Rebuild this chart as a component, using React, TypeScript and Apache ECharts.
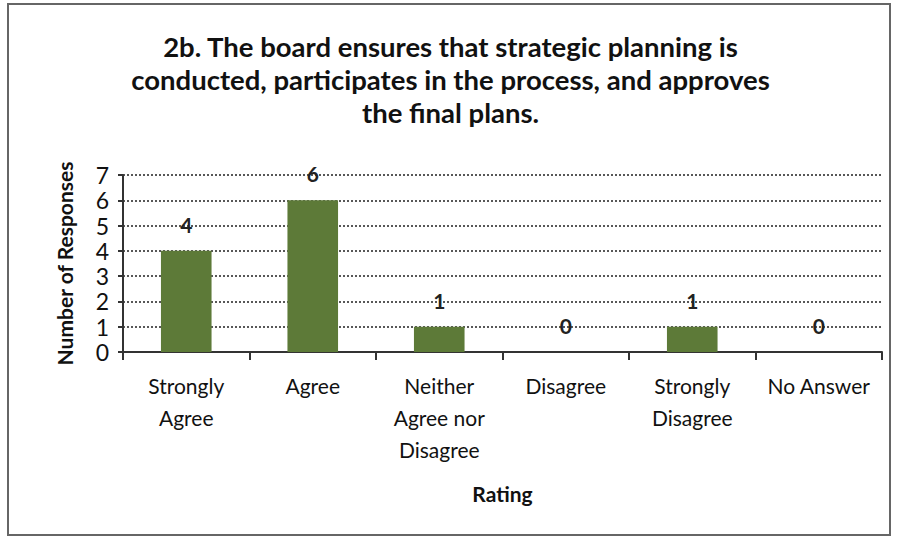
import React, { useEffect, useRef } from "react";
import * as echarts from "echarts";

const categories = ["Strongly\nAgree", "Agree", "Neither\nAgree nor\nDisagree", "Disagree", "Strongly\nDisagree", "No Answer"];
const responses = [4, 6, 1, 0, 1, 0];
const titleText = "2b. The board ensures that strategic planning is\nconducted, participates in the process, and approves\nthe final plans.";
const yAxisName = "Number of Responses";
const xAxisName = "Rating";

const FONT = "Lato, 'Open Sans', sans-serif";

export default function App() {
  const ref = useRef<HTMLDivElement>(null);
  useEffect(() => {
    const chart = echarts.init(ref.current!, null, { renderer: "svg" });
    chart.setOption({
      animation: false,
      backgroundColor: "#ffffff",
      textStyle: { fontFamily: FONT },
      title: {
        text: titleText,
        left: "center",
        top: 25,
        textStyle: { fontFamily: FONT, fontSize: 27.5, fontWeight: "bold", color: "#111", lineHeight: 33, align: "center" },
      },
      graphic: [
        {
          type: "rect",
          shape: { x: 8, y: 4, width: 882, height: 531 },
          style: { fill: "none", stroke: "#666", lineWidth: 2 },
          silent: true,
        },
      ],
      grid: { left: 123, right: 19, top: 175, bottom: 190 },
      xAxis: {
        type: "category",
        data: categories,
        axisLine: { lineStyle: { color: "#333", width: 2 } },
        axisTick: { show: true, alignWithLabel: false, length: 8, lineStyle: { color: "#333", width: 2 } },
        axisLabel: { color: "#111", fontSize: 21, fontFamily: FONT, lineHeight: 32, margin: 17, interval: 0 },
        name: xAxisName,
        nameLocation: "middle",
        nameGap: 131,
        nameTextStyle: { fontSize: 21, fontWeight: "bold", color: "#111", fontFamily: FONT },
      },
      yAxis: {
        type: "value",
        min: 0,
        max: 7,
        interval: 1,
        axisLine: { show: true, lineStyle: { color: "#333", width: 2 } },
        axisTick: { show: true, length: 5, lineStyle: { color: "#333", width: 2 } },
        axisLabel: { color: "#111", fontSize: 23, fontFamily: FONT, margin: 14 },
        splitLine: { show: true, lineStyle: { color: "#222", type: [2, 2], width: 1.5 } },
        name: yAxisName,
        nameLocation: "middle",
        nameGap: 48,
        nameTextStyle: { fontSize: 21, fontWeight: "bold", color: "#111", fontFamily: FONT },
      },
      series: [
        {
          type: "bar",
          data: responses,
          barWidth: "40%",
          itemStyle: { color: "#5d7a38" },
          label: {
            show: true,
            position: "top",
            distance: 16,
            color: "#222",
            fontSize: 21,
            fontWeight: "bold",
            fontFamily: FONT,
          },
        },
      ],
    });
    return () => chart.dispose();
  }, []);
  return <div ref={ref} style={{ position: "fixed", left: 0, top: 0, width: 901, height: 542 }} />;
}
